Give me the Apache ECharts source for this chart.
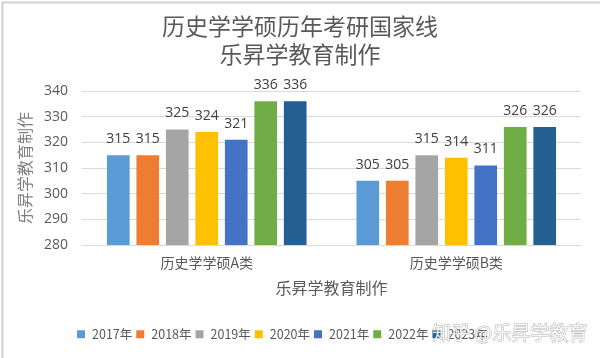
<!DOCTYPE html>
<html><head><meta charset="utf-8">
<script src="https://cdn.jsdelivr.net/npm/echarts@6/dist/echarts.min.js"></script>
<style>html,body{margin:0;padding:0;background:#fff}#c{width:600px;height:358px}</style>
</head><body><div id="c"></div>
<script>
var categories = ['历史学学硕A类', '历史学学硕B类'];
var years = ['2017年', '2018年', '2019年', '2020年', '2021年', '2022年', '2023年'];
var values = {
  '2017年': [315, 305],
  '2018年': [315, 305],
  '2019年': [325, 315],
  '2020年': [324, 314],
  '2021年': [321, 311],
  '2022年': [336, 326],
  '2023年': [336, 326]
};
var yTicks = [280, 290, 300, 310, 320, 330, 340];
var colors = ['#5B9BD5', '#ED7D31', '#A5A5A5', '#FFC000', '#4472C4', '#70AD47', '#255E91'];
var font = '"Noto Sans CJK SC", "Noto Sans", sans-serif';

var chart = echarts.init(document.getElementById('c'));
var series = years.map(function (y, i) {
  return {
    name: y, type: 'bar', data: values[y],
    barGap: '30%', barCategoryGap: '20%',
    itemStyle: { color: colors[i] },
    label: { show: true, position: 'top', distance: 9, color: '#404040', fontSize: 14, fontFamily: '"Open Sans", "Noto Sans", sans-serif' }
  };
});
chart.setOption({
  animation: false,
  color: colors,
  title: {
    text: '历史学学硕历年考研国家线\n乐昇学教育制作',
    left: 'center', top: 7,
    textStyle: { fontSize: 23, fontWeight: 'normal', color: '#595959', lineHeight: 28.5, fontFamily: font }
  },
  grid: { left: 82, right: 19, top: 91, bottom: 113, containLabel: false },
  xAxis: {
    type: 'category', data: categories,
    axisLine: { lineStyle: { color: '#D9D9D9' } },
    axisTick: { show: false },
    axisLabel: { color: '#595959', fontSize: 14, margin: 11, fontFamily: font },
    name: '乐昇学教育制作', nameLocation: 'middle', nameGap: 35,
    nameTextStyle: { color: '#595959', fontSize: 16, fontFamily: font }
  },
  yAxis: {
    type: 'value', min: yTicks[0], max: yTicks[yTicks.length - 1], interval: 10,
    axisLine: { show: false }, axisTick: { show: false },
    splitLine: { lineStyle: { color: '#D9D9D9' } },
    axisLabel: { color: '#595959', fontSize: 14, margin: 14, fontFamily: '"Open Sans", "Noto Sans", sans-serif' },
    name: '乐昇学教育制作', nameLocation: 'middle', nameGap: 45, nameRotate: 90,
    nameTextStyle: { color: '#7F7F7F', fontSize: 16, fontFamily: font }
  },
  legend: {
    data: years, top: 323, left: 72, itemWidth: 8, itemHeight: 8, itemGap: 4,
    icon: 'rect',
    textStyle: { color: '#595959', fontSize: 12.5, padding: [0, 0, 0, 2], fontFamily: font }
  },
  graphic: [
    { type: 'rect', left: 0, top: 0, shape: { width: 599, height: 357 }, style: { fill: 'none', stroke: '#D0D0D0', lineWidth: 2 }, silent: true },
    { type: 'text', right: 12, bottom: 15, z: 100, style: { text: '知乎 @乐昇学教育', fill: 'rgba(255,255,255,0.85)', stroke: 'rgba(120,120,120,0.55)', lineWidth: 1, fontSize: 19, fontFamily: font } }
  ],
  series: series
});
</script></body></html>
